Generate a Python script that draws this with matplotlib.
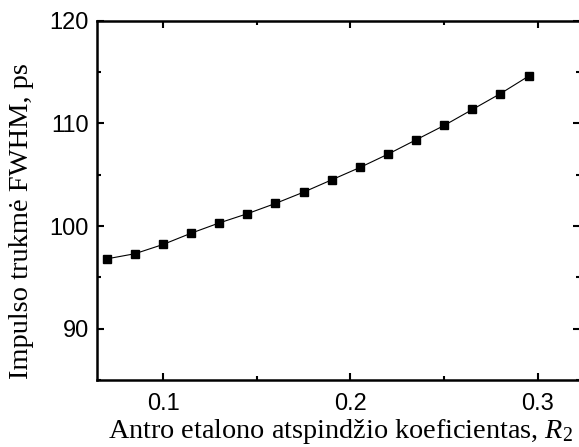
import matplotlib
matplotlib.use("Agg")
import matplotlib.pyplot as plt
from matplotlib.ticker import MultipleLocator

plt.rcParams["mathtext.fontset"] = "custom"
plt.rcParams["mathtext.it"] = "Liberation Serif:italic"
plt.rcParams["mathtext.rm"] = "Liberation Serif"

R2 = [0.07, 0.085, 0.1, 0.115, 0.13, 0.145, 0.16, 0.175, 0.19, 0.205,
      0.22, 0.235, 0.25, 0.265, 0.28, 0.295]
fwhm = [96.8, 97.3, 98.2, 99.3, 100.3, 101.2, 102.2, 103.3, 104.5, 105.7,
        107.0, 108.4, 109.8, 111.35, 112.9, 114.6]
xticks = [0.1, 0.2, 0.3]
yticks = [90, 100, 110, 120]

W, H = 579, 447
fig = plt.figure(figsize=(W / 100, H / 100), dpi=100)
left, right, top, bottom = 97, 580, 20.7, 380
ax = fig.add_axes([left / W, (H - bottom) / H, (right - left) / W, (bottom - top) / H])

ax.plot(R2, fwhm, color="black", lw=0.8, marker="s", ms=6.2, mfc="black", mec="black")

ax.set_xlim(0.0648, 0.3224)
ax.set_ylim(85, 120)
ax.set_xticks(xticks)
ax.set_xticklabels(["0.1", "0.2", "0.3"])
ax.set_yticks(yticks)
ax.xaxis.set_minor_locator(MultipleLocator(0.05))
ax.yaxis.set_minor_locator(MultipleLocator(5))
ax.tick_params(which="both", direction="in", top=True, right=True, width=1.5)
ax.tick_params(which="major", length=5, labelsize=17)
ax.tick_params(axis="x", which="major", pad=9)
ax.tick_params(axis="y", which="major", pad=6)
ax.tick_params(which="minor", length=3)
for lab in ax.get_xticklabels() + ax.get_yticklabels():
    lab.set_fontfamily("Liberation Sans")
for s in ax.spines.values():
    s.set_linewidth(1.8)

fig.text(340 / W, 1 - 438 / H, "Antro etalono atspindžio koeficientas, $R_2$",
         fontsize=20.3, family="Liberation Serif", ha="center", va="baseline")
fig.text(21.5 / W, 1 - 221.5 / H, "Impulso trukmė FWHM, ps", fontsize=20.5,
         family="Liberation Serif", rotation=90, ha="center", va="center")

fig.savefig("out.png", dpi=100)
